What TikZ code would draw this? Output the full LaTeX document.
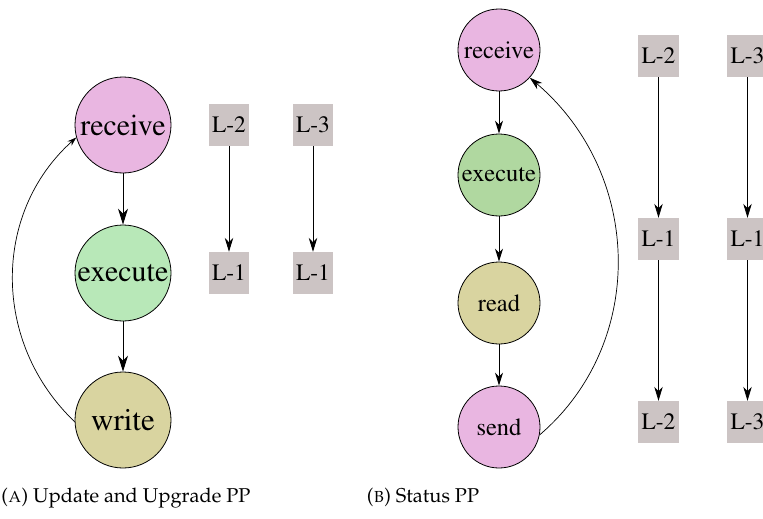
\documentclass[tikz,border=0pt]{standalone}
\usepackage[T1]{fontenc}
\usepackage{mathpazo}
\usetikzlibrary{arrows.meta}
\definecolor{cpink}{RGB}{233,182,225}
\definecolor{cgreenA}{RGB}{184,232,184}
\definecolor{cgreenB}{RGB}{176,216,160}
\definecolor{colive}{RGB}{217,212,160}
\definecolor{cgrey}{RGB}{204,196,196}
\tikzset{
  tms/.style={font=\fontfamily{ptm}\selectfont\fontsize{#1}{#1}\selectfont},
  stA/.style={circle, draw=black, line width=0.8pt, minimum size=96pt, inner sep=0pt, tms=30},
  stB/.style={circle, draw=black, line width=0.8pt, minimum size=82pt, inner sep=0pt, tms=24.5},
  lbox/.style={fill=cgrey, minimum width=40pt, minimum height=42pt, inner sep=0pt, tms=23.5},
  arrA/.style={line width=0.9pt, -{Stealth[length=16pt,width=10pt,inset=5pt]}},
  arrB/.style={line width=0.8pt, -{Stealth[length=14pt,width=8.5pt,inset=4.5pt]}},
  arrC/.style={line width=0.7pt, -{Stealth[length=9pt,width=6pt,inset=3pt]}},
  arrD/.style={line width=0.8pt, -{Stealth[length=13pt,width=8pt,inset=4pt]}},
  captext/.style={font=\fontsize{20}{22}\selectfont, anchor=base}
}
\begin{document}
\begin{tikzpicture}[x=1pt,y=-1pt]
\useasboundingbox (0,0) rectangle (763,519);
\clip (0,0) rectangle (763,519);
% left diagram
\node[stA, fill=cpink] (rcvA) at (123,125) {receive};
\node[stA, fill=cgreenA] (exeA) at (123,273) {execute};
\node[stA, fill=colive, tms=31] (wrtA) at (123,420) {write};
\node[lbox] (a2) at (229,125) {L-2};
\node[lbox] (a3) at (313,125) {L-3};
\node[lbox] (a1) at (229,273) {L-1};
\node[lbox] (a1b) at (313,273) {L-1};
\draw[arrA] (rcvA) -- (exeA);
\draw[arrA] (exeA) -- (wrtA);
\draw[arrB] (a2) -- (a1);
\draw[arrB] (a3) -- (a1b);
\draw[arrC] (wrtA.182) .. controls (-8,343) and (-8,213) .. (rcvA.195);
% right diagram
\node[stB, fill=cpink] (rcvB) at (499,50) {receive};
\node[stB, fill=cgreenB] (exeB) at (499,175) {execute};
\node[stB, fill=colive] (rdB) at (499,303) {read};
\node[stB, fill=cpink] (sndB) at (499,427) {send};
\node[lbox, minimum width=41pt] (b2) at (658.5,56) {L-2};
\node[lbox, minimum width=41pt] (b3) at (747.5,56) {L-3};
\node[lbox, minimum width=41pt] (b1) at (658.5,239) {L-1};
\node[lbox, minimum width=41pt] (b1b) at (747.5,239) {L-1};
\node[lbox, minimum width=41pt] (b2b) at (658.5,422) {L-2};
\node[lbox, minimum width=41pt] (b3b) at (747.5,422) {L-3};
\draw[arrD] (rcvB) -- (exeB);
\draw[arrD] (exeB) -- (rdB);
\draw[arrD] (rdB) -- (sndB);
\draw[arrB] (b2) -- (b1);
\draw[arrB] (b1) -- (b2b);
\draw[arrB] (b3) -- (b1b);
\draw[arrB] (b1b) -- (b3b);
\draw[arrD, line width=0.7pt] (sndB.-11) .. controls (647,343) and (643,174) .. (rcvB.-42);
% captions
\node[captext] (capA) at (126,502) {(\textsc{a}) Update and Upgrade PP};
\node[captext] (capB) at (423,502) {(\textsc{b}) Status PP};
\end{tikzpicture}
\end{document}
